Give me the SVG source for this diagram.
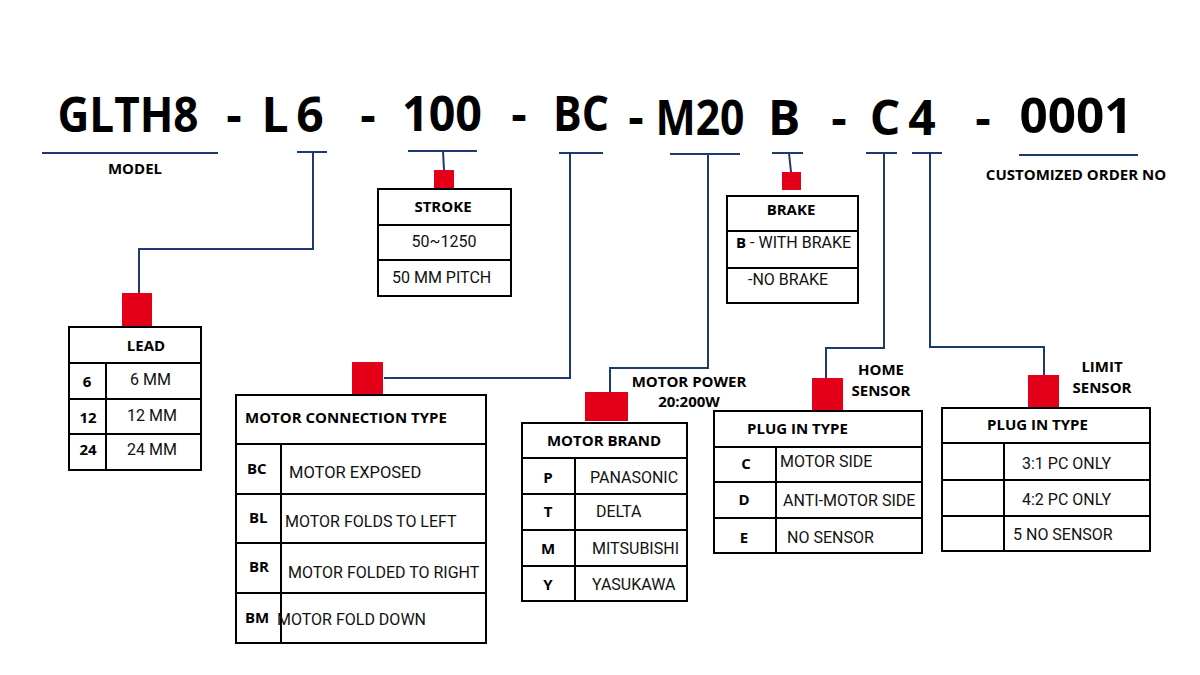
<svg xmlns="http://www.w3.org/2000/svg" width="1200" height="675" viewBox="0 0 1200 675">
<defs>
<style>
.big{font-family:"Open Sans","Liberation Sans",sans-serif;font-weight:700;font-size:48px;fill:#000;text-anchor:middle}
.b{font-family:"Open Sans","Liberation Sans",sans-serif;font-weight:700;font-size:15px;fill:#000}
.r{font-family:Roboto,"Liberation Sans",sans-serif;font-weight:400;font-size:16px;fill:#111}
.c{text-anchor:middle}
.conn{fill:none;stroke:#1f3a70;stroke-width:2}
.tb{fill:#fff;stroke:#000;stroke-width:2}
.ln{stroke:#000;stroke-width:2}
.red{fill:#e5001a}
</style>
</defs>
<rect width="1200" height="675" fill="#fff"/>

<g id="code">
<text class="big" x="128" y="132" textLength="141" lengthAdjust="spacingAndGlyphs">GLTH8</text>
<text class="big" x="234" y="132">-</text>
<text class="big" x="275" y="132">L</text>
<text class="big" x="310" y="132">6</text>
<text class="big" x="368" y="132">-</text>
<text class="big" x="442" y="131" textLength="80" lengthAdjust="spacingAndGlyphs">100</text>
<text class="big" x="519" y="131">-</text>
<text class="big" x="581" y="131" textLength="56" lengthAdjust="spacingAndGlyphs">BC</text>
<text class="big" x="636" y="134">-</text>
<text class="big" x="700" y="135" textLength="89" lengthAdjust="spacingAndGlyphs">M20</text>
<text class="big" x="784" y="135">B</text>
<text class="big" x="839" y="135">-</text>
<text class="big" x="885" y="135">C</text>
<text class="big" x="922" y="135">4</text>
<text class="big" x="983" y="135">-</text>
<text class="big" x="1076" y="133" textLength="113" lengthAdjust="spacingAndGlyphs">0001</text>
</g>

<g id="connectors">
<path class="conn" d="M42 153 H218"/>
<path class="conn" d="M297 152 H327 M313 152 V249 H139 V293"/>
<path class="conn" d="M408 151 H477 M443 151 L444 170"/>
<path class="conn" d="M559 153 H603 M570 153 V378 H384"/>
<path class="conn" d="M670 154 H740 M708 154 V368 H610 V392"/>
<path class="conn" d="M772 153 H803 M789 153 L791 172"/>
<path class="conn" d="M866 153 H897 M884 153 V348 H826 V378"/>
<path class="conn" d="M912 153 H942 M930 153 V347 H1044 V375"/>
<path class="conn" d="M1019 155 H1138"/>
</g>

<g id="model">
<text class="b c" x="135" y="174">MODEL</text>
</g>

<g id="customized">
<text class="b c" x="1076" y="180">CUSTOMIZED ORDER NO</text>
</g>

<g id="lead">
<rect class="red" x="122" y="293" width="30" height="34"/>
<rect class="tb" x="69" y="327" width="132" height="143"/>
<path class="ln" d="M69 363 H201 M69 399 H201 M69 434 H201 M106 363 V470"/>
<text class="b c" x="146" y="351">LEAD</text>
<text class="b c" x="87" y="387">6</text>
<text class="b c" x="88" y="423">12</text>
<text class="b c" x="88" y="455">24</text>
<text class="r" x="130" y="385">6 MM</text>
<text class="r" x="127" y="421">12 MM</text>
<text class="r" x="127" y="455">24 MM</text>
</g>

<g id="stroke">
<rect class="red" x="434" y="170" width="20" height="19"/>
<rect class="tb" x="378" y="189" width="133" height="107"/>
<path class="ln" d="M378 225 H511 M378 260 H511"/>
<text class="b c" x="443" y="212">STROKE</text>
<text class="r c" x="444" y="247">50~1250</text>
<text class="r" x="392" y="283">50 MM PITCH</text>
</g>

<g id="motor-connection">
<rect class="red" x="352" y="362" width="31" height="32"/>
<rect class="tb" x="236" y="395" width="250" height="248"/>
<path class="ln" d="M236 444 H486 M236 494 H486 M236 543 H486 M236 593 H486 M281 444 V643"/>
<text class="b" x="245" y="423">MOTOR CONNECTION TYPE</text>
<text class="b" x="247" y="474">BC</text>
<text class="r" x="289" y="478" style="font-size:16.5px">MOTOR EXPOSED</text>
<text class="r" x="285" y="527">MOTOR FOLDS TO LEFT</text>
<text class="b" x="249" y="523">BL</text>
<text class="b" x="249" y="572">BR</text>
<text class="r" x="288" y="578">MOTOR FOLDED TO RIGHT</text>
<text class="b" x="245" y="623">BM</text>
<text class="r" x="277" y="625">MOTOR FOLD DOWN</text>
</g>

<g id="motor-power">
<text class="b c" x="689" y="387">MOTOR POWER</text>
<text class="b c" x="689" y="407">20:200W</text>
</g>

<g id="motor-brand">
<rect class="red" x="585" y="392" width="43" height="29"/>
<rect class="tb" x="522" y="423" width="165" height="178"/>
<path class="ln" d="M522 458 H687 M522 494 H687 M522 530 H687 M522 566 H687 M575 458 V601"/>
<text class="b c" x="604" y="446">MOTOR BRAND</text>
<text class="b c" x="548" y="483">P</text>
<text class="r" x="590" y="483">PANASONIC</text>
<text class="b c" x="548" y="517">T</text>
<text class="r" x="596" y="517">DELTA</text>
<text class="b c" x="548" y="554">M</text>
<text class="r" x="592" y="554">MITSUBISHI</text>
<text class="b c" x="548" y="590">Y</text>
<text class="r" x="592" y="590">YASUKAWA</text>
</g>

<g id="brake">
<rect class="red" x="782" y="172" width="19" height="18"/>
<rect class="tb" x="727" y="196" width="131" height="107"/>
<path class="ln" d="M727 231 H858 M727 268 H858"/>
<text class="b c" x="791" y="215">BRAKE</text>
<text class="r" x="736" y="248"><tspan class="b">B</tspan> - WITH BRAKE</text>
<text class="r" x="748" y="285">-NO BRAKE</text>
</g>

<g id="home-sensor">
<rect class="red" x="812" y="378" width="31" height="33"/>
<text class="b c" x="881" y="375">HOME</text>
<text class="b c" x="881" y="396">SENSOR</text>
<rect class="tb" x="714" y="411" width="208" height="142"/>
<path class="ln" d="M714 447 H922 M714 482 H922 M714 518 H922 M776 447 V553"/>
<text class="b" x="747" y="434">PLUG IN TYPE</text>
<text class="b c" x="746" y="469">C</text>
<text class="r" x="780" y="467">MOTOR SIDE</text>
<text class="b c" x="744" y="505">D</text>
<text class="r" x="783" y="506">ANTI-MOTOR SIDE</text>
<text class="b c" x="744" y="543">E</text>
<text class="r" x="787" y="543">NO SENSOR</text>
</g>

<g id="limit-sensor">
<rect class="red" x="1028" y="375" width="31" height="32"/>
<text class="b c" x="1102" y="372">LIMIT</text>
<text class="b c" x="1102" y="393">SENSOR</text>
<rect class="tb" x="942" y="408" width="208" height="143"/>
<path class="ln" d="M942 443 H1150 M942 480 H1150 M942 516 H1150 M1004 443 V551"/>
<text class="b" x="987" y="430">PLUG IN TYPE</text>
<text class="r" x="1022" y="469">3:1 PC ONLY</text>
<text class="r" x="1022" y="505">4:2 PC ONLY</text>
<text class="r" x="1013" y="540">5 NO SENSOR</text>
</g>
</svg>
